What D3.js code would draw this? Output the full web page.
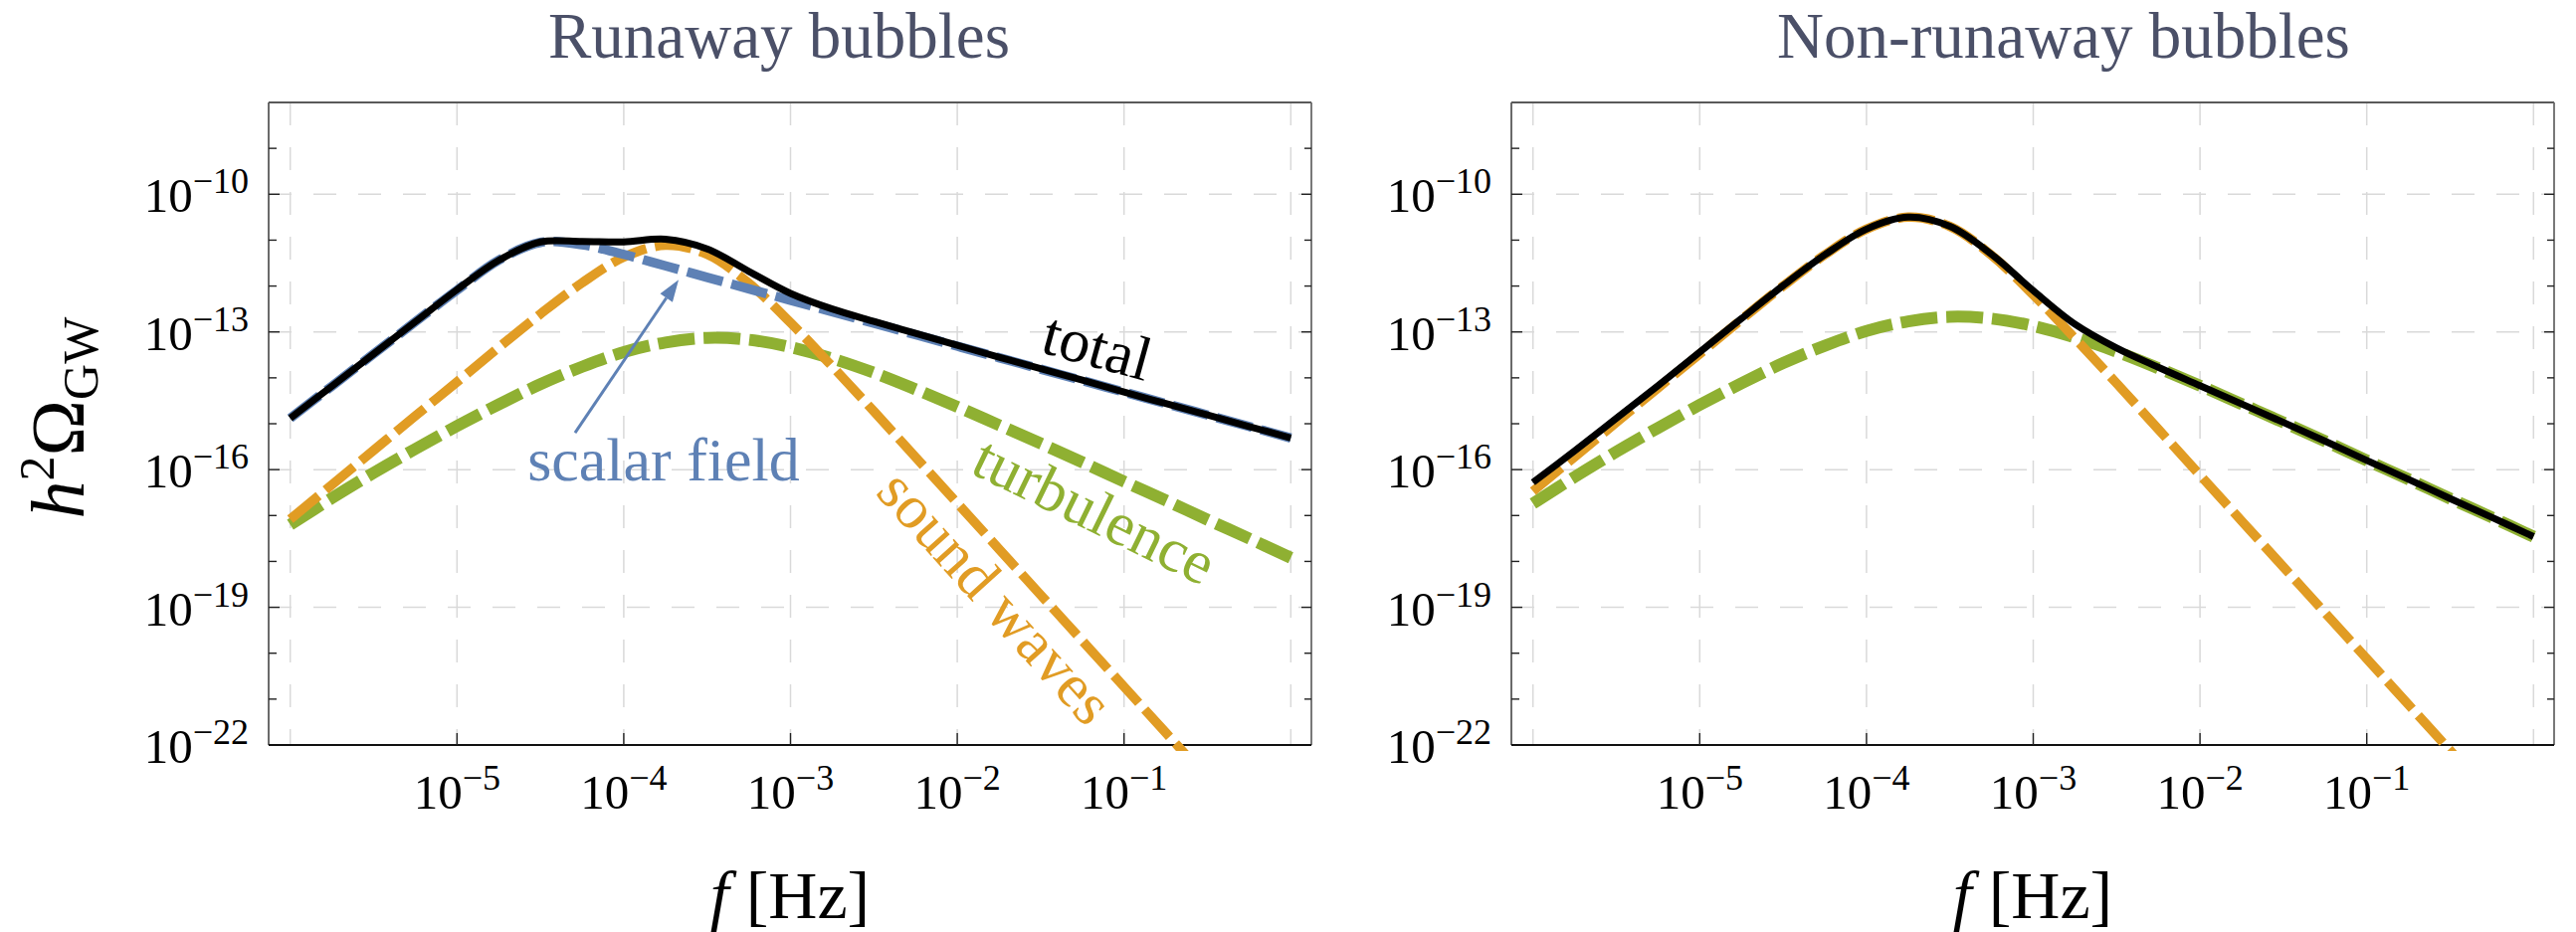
<!DOCTYPE html>
<html>
<head>
<meta charset="utf-8">
<script src="https://cdn.jsdelivr.net/npm/d3@7"></script>
<style>
  body { margin: 0; background: #fff; }
  svg { display: block; }
  text { font-family: "Liberation Serif", "Times New Roman", serif; }
</style>
</head>
<body>
<svg id="chart" width="2589" height="937"></svg>
<script>
// Frequencies (log10 of f in Hz) shared by every spectrum
const logFreq = [-6, -5.75, -5.5, -5.25, -5, -4.75, -4.5, -4.25, -4, -3.75, -3.5, -3.25,
                 -3, -2.75, -2.5, -2.25, -2, -1.75, -1.5, -1.25, -1, -0.75, -0.5, -0.25, 0];

// Runaway bubbles: log10(h^2 Omega_GW)
const runawayScalar = [-14.88, -14.18, -13.48, -12.78, -12.09, -11.44, -11.05, -11.10, -11.31, -11.56, -11.81, -12.06,
                       -12.31, -12.56, -12.81, -13.06, -13.31, -13.56, -13.81, -14.06, -14.31, -14.56, -14.81, -15.06, -15.31];
const runawaySound  = [-17.08, -16.33, -15.58, -14.83, -14.09, -13.34, -12.61, -11.93, -11.37, -11.11, -11.31, -11.94,
                       -12.80, -13.75, -14.73, -15.73, -16.73, -17.73, -18.73, -19.73, -20.73, -21.73, -22.73, -23.73, -24.73];
const runawayTurb   = [-17.20, -16.62, -16.07, -15.55, -15.05, -14.58, -14.14, -13.76, -13.44, -13.23, -13.13, -13.17,
                       -13.33, -13.58, -13.89, -14.25, -14.63, -15.03, -15.43, -15.84, -16.26, -16.67, -17.09, -17.50, -17.92];
const runawayTotal  = [-14.88, -14.18, -13.48, -12.78, -12.08, -11.44, -11.04, -11.03, -11.04, -10.98, -11.19, -11.68,
                       -12.16, -12.50, -12.77, -13.03, -13.29, -13.55, -13.80, -14.05, -14.31, -14.56, -14.81, -15.06, -15.31];

// Non-runaway bubbles: log10(h^2 Omega_GW)
const nonRunawaySound = [-16.47, -15.72, -14.97, -14.22, -13.48, -12.73, -12.00, -11.32, -10.76, -10.50, -10.70, -11.33,
                         -12.19, -13.14, -14.12, -15.12, -16.12, -17.12, -18.12, -19.12, -20.12, -21.12, -22.12, -23.12, -24.12];
const nonRunawayTurb  = [-16.74, -16.16, -15.61, -15.09, -14.59, -14.12, -13.68, -13.30, -12.98, -12.77, -12.67, -12.71,
                         -12.87, -13.12, -13.43, -13.79, -14.17, -14.57, -14.97, -15.38, -15.80, -16.21, -16.63, -17.04, -17.46];
const nonRunawayTotal = [-16.28, -15.59, -14.88, -14.17, -13.44, -12.71, -11.99, -11.32, -10.76, -10.50, -10.70, -11.31,
                         -12.10, -12.83, -13.35, -13.77, -14.17, -14.57, -14.97, -15.38, -15.80, -16.21, -16.63, -17.04, -17.46];

// Axis ticks (decade exponents)
const xTickExps = [-5, -4, -3, -2, -1];
const xGridExps = [-6, -5, -4, -3, -2, -1, 0];
const yTickExps = [-22, -19, -16, -13, -10];
const yMinorExps = [-21, -20, -18, -17, -15, -14, -12, -11, -9];
const panelTitles = ["Runaway bubbles", "Non-runaway bubbles"];

const COLORS = { scalar: "#5e81b5", sound: "#e19c24", turb: "#8fb032", total: "#000000" };

const svg = d3.select("#chart");
const plotTop = 103, plotBottom = 749;

const panels = [
  { title: panelTitles[0], left: 270, right: 1318, titleX: 783, clipId: "clipL",
    series: [
      { values: runawayTurb, color: COLORS.turb, width: 12, dash: "37,9" },
      { values: runawaySound, color: COLORS.sound, width: 9.5, dash: "37,9" },
      { values: runawayScalar, color: COLORS.scalar, width: 9.5, dash: "37,9" },
      { values: runawayTotal, color: COLORS.total, width: 7, dash: null }
    ] },
  { title: panelTitles[1], left: 1519, right: 2567, titleX: 2074, clipId: "clipR",
    series: [
      { values: nonRunawayTurb, color: COLORS.turb, width: 12, dash: "37,9" },
      { values: nonRunawaySound, color: COLORS.sound, width: 9.5, dash: "37,9" },
      { values: nonRunawayTotal, color: COLORS.total, width: 7, dash: null }
    ] }
];

const y = d3.scaleLog().domain([1e-22, 1e-8]).range([plotBottom, plotTop]);

function powerLabel(sel, exp, baseSize, supSize, rise) {
  sel.append("tspan").style("font-size", baseSize + "px").text("10");
  sel.append("tspan").attr("dy", -rise).style("font-size", supSize + "px").text("\u2212" + Math.abs(exp));
}

const defs = svg.append("defs");

panels.forEach((p, i) => {
  const x = d3.scaleLog().domain([Math.pow(10, -6.1295), Math.pow(10, 0.1235)]).range([p.left, p.right]);
  p.x = x;
  const g = svg.append("g");

  defs.append("clipPath").attr("id", p.clipId)
    .append("rect").attr("x", p.left).attr("y", plotTop - 2)
    .attr("width", p.right - p.left).attr("height", plotBottom - plotTop + 8);

  // grid
  const grid = g.append("g").attr("stroke", "#d9d9d9").attr("stroke-width", 1.5).attr("stroke-dasharray", "23,22");
  grid.selectAll("line.v").data(xGridExps).join("line")
    .attr("x1", d => x(Math.pow(10, d))).attr("x2", d => x(Math.pow(10, d)))
    .attr("y1", plotTop).attr("y2", plotBottom);
  grid.selectAll("line.h").data(yTickExps.filter(e => e > -22)).join("line")
    .attr("x1", p.left).attr("x2", p.right)
    .attr("y1", d => y(Math.pow(10, d))).attr("y2", d => y(Math.pow(10, d)));

  // frame
  g.append("line").attr("x1", p.left).attr("x2", p.right).attr("y1", plotTop).attr("y2", plotTop)
    .attr("stroke", "#5a5a5a").attr("stroke-width", 1.8);
  g.append("line").attr("x1", p.left).attr("x2", p.left).attr("y1", plotTop).attr("y2", plotBottom)
    .attr("stroke", "#5a5a5a").attr("stroke-width", 1.8);
  g.append("line").attr("x1", p.right).attr("x2", p.right).attr("y1", plotTop).attr("y2", plotBottom)
    .attr("stroke", "#6a6a6a").attr("stroke-width", 1.8);
  g.append("line").attr("x1", p.left).attr("x2", p.right).attr("y1", plotBottom).attr("y2", plotBottom)
    .attr("stroke", "#111").attr("stroke-width", 2);

  // y ticks (both sides, pointing inward)
  const allY = yTickExps.concat(yMinorExps).filter(e => e > -22);
  allY.forEach(e => {
    const major = yTickExps.includes(e);
    const yy = y(Math.pow(10, e));
    g.append("line").attr("x1", p.left).attr("x2", p.left + (major ? 11 : 8)).attr("y1", yy).attr("y2", yy)
      .attr("stroke", "#222").attr("stroke-width", 1.4);
    g.append("line").attr("x1", p.right).attr("x2", p.right - (major ? 10 : 7)).attr("y1", yy).attr("y2", yy)
      .attr("stroke", "#222").attr("stroke-width", 1.4);
  });
  // x ticks
  xTickExps.forEach(e => {
    const xx = x(Math.pow(10, e));
    g.append("line").attr("x1", xx).attr("x2", xx).attr("y1", plotBottom).attr("y2", plotBottom - 12)
      .attr("stroke", "#222").attr("stroke-width", 1.4);
  });

  // tick labels
  yTickExps.forEach(e => {
    g.append("text").attr("x", p.left - 20).attr("y", y(Math.pow(10, e)) + 18)
      .attr("text-anchor", "end").attr("fill", "#000")
      .call(powerLabel, e, 49, 36, 19);
  });
  xTickExps.forEach(e => {
    g.append("text").attr("x", x(Math.pow(10, e))).attr("y", 813)
      .attr("text-anchor", "middle").attr("fill", "#000")
      .call(powerLabel, e, 49, 36, 19);
  });

  // curves
  const line = d3.line()
    .x(d => x(Math.pow(10, d[0])))
    .y(d => y(Math.pow(10, d[1])))
    .curve(d3.curveCatmullRom.alpha(0.5));
  const curves = g.append("g").attr("clip-path", `url(#${p.clipId})`);
  p.series.forEach(s => {
    curves.append("path")
      .attr("d", line(logFreq.map((f, k) => [f, s.values[k]])))
      .attr("fill", "none").attr("stroke", s.color).attr("stroke-width", s.width)
      .attr("stroke-dasharray", s.dash).attr("stroke-linejoin", "round");
  });

  // title
  g.append("text").attr("x", p.titleX).attr("y", 58).attr("text-anchor", "middle")
    .attr("fill", "#4b5068").style("font-size", "65px").text(p.title);

  // x-axis label
  const xl = g.append("text").attr("x", (p.left + p.right) / 2).attr("y", 923)
    .attr("text-anchor", "middle").attr("fill", "#000").style("font-size", "68px");
  xl.append("tspan").style("font-style", "italic").text("f");
  xl.append("tspan").text(" [Hz]");
});

// y-axis label
const yl = svg.append("text").attr("transform", "translate(84,420) rotate(-90)")
  .attr("text-anchor", "middle").attr("fill", "#000").style("font-size", "76px");
yl.append("tspan").style("font-style", "italic").text("h");
yl.append("tspan").attr("dy", -30).style("font-size", "50px").text("2");
yl.append("tspan").attr("dy", 30).text("\u03A9");
yl.append("tspan").attr("dy", 14).style("font-size", "50px").text("GW");

// annotations on the runaway panel (positions in data coordinates: log10 f, log10 Omega)
const L = panels[0];
const px = (lf) => L.x(Math.pow(10, lf));
const py = (lo) => y(Math.pow(10, lo));
const annotations = [
  { text: "total", at: [-1.159, -13.314], angle: 15.4, color: COLORS.total },
  { text: "turbulence", at: [-1.176, -16.888], angle: 26, color: COLORS.turb },
  { text: "sound waves", at: [-1.768, -18.772], angle: 48, color: COLORS.sound },
  { text: "scalar field", at: [-3.761, -15.78], angle: 0, color: COLORS.scalar }
];
annotations.forEach(a => {
  svg.append("text")
    .attr("transform", `translate(${px(a.at[0])},${py(a.at[1])}) rotate(${a.angle})`)
    .attr("text-anchor", "middle").attr("dominant-baseline", "central")
    .attr("fill", a.color).style("font-size", "62px").text(a.text);
});

// arrow from the "scalar field" label to its curve
const tail = [px(-4.292), py(-15.198)], tip = [px(-3.671), py(-11.863)];
const ang = Math.atan2(tip[1] - tail[1], tip[0] - tail[0]);
const headLen = 22, headHalf = 7.5;
const base = [tip[0] - headLen * Math.cos(ang), tip[1] - headLen * Math.sin(ang)];
svg.append("line").attr("x1", tail[0]).attr("y1", tail[1]).attr("x2", base[0]).attr("y2", base[1])
  .attr("stroke", COLORS.scalar).attr("stroke-width", 3);
svg.append("polygon")
  .attr("points", [
    tip,
    [base[0] + headHalf * Math.sin(ang), base[1] - headHalf * Math.cos(ang)],
    [base[0] - headHalf * Math.sin(ang), base[1] + headHalf * Math.cos(ang)]
  ].map(q => q.join(",")).join(" "))
  .attr("fill", COLORS.scalar);
</script>
</body>
</html>
